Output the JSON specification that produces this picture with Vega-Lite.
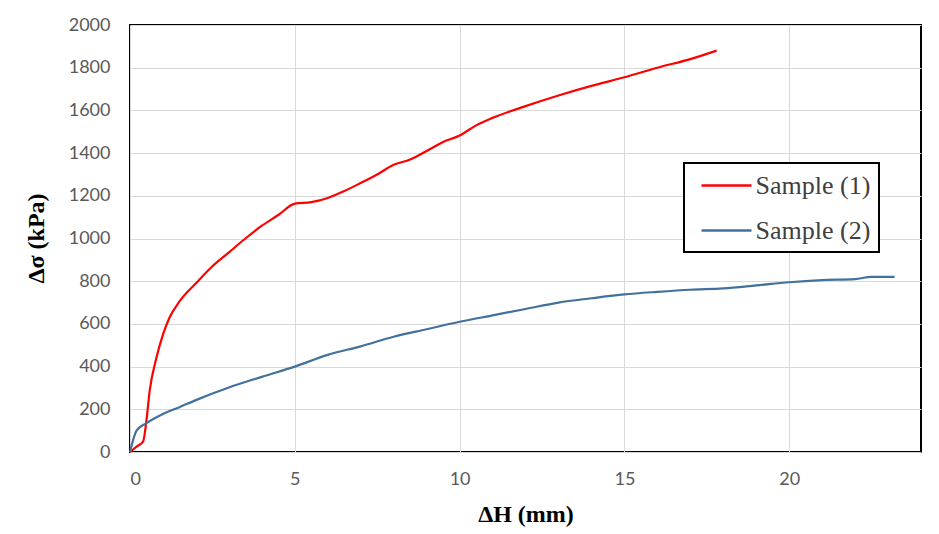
{
  "$schema": "https://vega.github.io/schema/vega-lite/v6.json",
  "width": 791,
  "height": 427,
  "autosize": {"type": "none"},
  "padding": {"left": 130, "top": 25, "right": 18, "bottom": 82},
  "background": "white",
  "config": {
    "view": {"stroke": "black", "strokeWidth": 2},
    "legend": {"strokeWidth": 2},
    "axis": {
      "labelFont": "Lato",
      "labelFontSize": 18,
      "labelColor": "#595959",
      "gridColor": "#d9d9d9",
      "gridWidth": 1,
      "domain": false,
      "ticks": false,
      "titleFont": "Liberation Serif",
      "titleFontSize": 24,
      "titleFontWeight": "bold",
      "titleColor": "black"
    }
  },
  "data": {
    "values": [
      {"dh": 0, "ds": 0, "s": "Sample (1)"},
      {"dh": 0.2, "ds": 25, "s": "Sample (1)"},
      {"dh": 0.4, "ds": 50, "s": "Sample (1)"},
      {"dh": 0.5, "ds": 150, "s": "Sample (1)"},
      {"dh": 0.6, "ds": 290, "s": "Sample (1)"},
      {"dh": 0.8, "ds": 440, "s": "Sample (1)"},
      {"dh": 1.0, "ds": 550, "s": "Sample (1)"},
      {"dh": 1.2, "ds": 630, "s": "Sample (1)"},
      {"dh": 1.5, "ds": 705, "s": "Sample (1)"},
      {"dh": 2.0, "ds": 790, "s": "Sample (1)"},
      {"dh": 2.5, "ds": 870, "s": "Sample (1)"},
      {"dh": 3.0, "ds": 935, "s": "Sample (1)"},
      {"dh": 3.5, "ds": 1000, "s": "Sample (1)"},
      {"dh": 4.0, "ds": 1060, "s": "Sample (1)"},
      {"dh": 4.5, "ds": 1110, "s": "Sample (1)"},
      {"dh": 5.0, "ds": 1163, "s": "Sample (1)"},
      {"dh": 5.5, "ds": 1170, "s": "Sample (1)"},
      {"dh": 6.0, "ds": 1190, "s": "Sample (1)"},
      {"dh": 6.5, "ds": 1222, "s": "Sample (1)"},
      {"dh": 7.0, "ds": 1260, "s": "Sample (1)"},
      {"dh": 7.5, "ds": 1300, "s": "Sample (1)"},
      {"dh": 8.0, "ds": 1345, "s": "Sample (1)"},
      {"dh": 8.5, "ds": 1370, "s": "Sample (1)"},
      {"dh": 9.0, "ds": 1410, "s": "Sample (1)"},
      {"dh": 9.5, "ds": 1452, "s": "Sample (1)"},
      {"dh": 10.0, "ds": 1482, "s": "Sample (1)"},
      {"dh": 10.5, "ds": 1530, "s": "Sample (1)"},
      {"dh": 11.0, "ds": 1565, "s": "Sample (1)"},
      {"dh": 12.0, "ds": 1620, "s": "Sample (1)"},
      {"dh": 13.0, "ds": 1670, "s": "Sample (1)"},
      {"dh": 14.0, "ds": 1715, "s": "Sample (1)"},
      {"dh": 15.0, "ds": 1755, "s": "Sample (1)"},
      {"dh": 16.0, "ds": 1800, "s": "Sample (1)"},
      {"dh": 17.0, "ds": 1840, "s": "Sample (1)"},
      {"dh": 17.8, "ds": 1880, "s": "Sample (1)"},
      {"dh": 0, "ds": 0, "s": "Sample (2)"},
      {"dh": 0.2, "ds": 100, "s": "Sample (2)"},
      {"dh": 0.5, "ds": 135, "s": "Sample (2)"},
      {"dh": 1.0, "ds": 178, "s": "Sample (2)"},
      {"dh": 1.5, "ds": 210, "s": "Sample (2)"},
      {"dh": 2.0, "ds": 243, "s": "Sample (2)"},
      {"dh": 3.0, "ds": 302, "s": "Sample (2)"},
      {"dh": 4.0, "ds": 352, "s": "Sample (2)"},
      {"dh": 5.0, "ds": 400, "s": "Sample (2)"},
      {"dh": 6.0, "ds": 455, "s": "Sample (2)"},
      {"dh": 7.0, "ds": 495, "s": "Sample (2)"},
      {"dh": 8.0, "ds": 540, "s": "Sample (2)"},
      {"dh": 9.0, "ds": 575, "s": "Sample (2)"},
      {"dh": 10.0, "ds": 610, "s": "Sample (2)"},
      {"dh": 11.0, "ds": 640, "s": "Sample (2)"},
      {"dh": 12.0, "ds": 670, "s": "Sample (2)"},
      {"dh": 13.0, "ds": 700, "s": "Sample (2)"},
      {"dh": 14.0, "ds": 720, "s": "Sample (2)"},
      {"dh": 15.0, "ds": 738, "s": "Sample (2)"},
      {"dh": 16.0, "ds": 750, "s": "Sample (2)"},
      {"dh": 17.0, "ds": 760, "s": "Sample (2)"},
      {"dh": 18.0, "ds": 766, "s": "Sample (2)"},
      {"dh": 19.0, "ds": 780, "s": "Sample (2)"},
      {"dh": 20.0, "ds": 795, "s": "Sample (2)"},
      {"dh": 21.0, "ds": 805, "s": "Sample (2)"},
      {"dh": 22.0, "ds": 810, "s": "Sample (2)"},
      {"dh": 22.5, "ds": 820, "s": "Sample (2)"},
      {"dh": 23.2, "ds": 820, "s": "Sample (2)"}
    ]
  },
  "mark": {"type": "line", "strokeWidth": 2.2, "interpolate": "monotone"},
  "encoding": {
    "x": {
      "field": "dh", "type": "quantitative",
      "scale": {"domain": [0, 24], "nice": false},
      "axis": {"values": [0, 5, 10, 15, 20], "format": "d", "title": "ΔH (mm)", "labelPadding": 18, "titleY": 62, "titleBaseline": "middle"}
    },
    "y": {
      "field": "ds", "type": "quantitative",
      "scale": {"domain": [0, 2000], "nice": false},
      "axis": {"values": [0, 200, 400, 600, 800, 1000, 1200, 1400, 1600, 1800, 2000], "format": "d", "title": "Δσ (kPa)", "labelPadding": 20, "titleX": -94, "titleY": 213, "titleBaseline": "middle", "titleAlign": "center", "titleAngle": -90}
    },
    "color": {
      "field": "s", "type": "nominal",
      "scale": {"domain": ["Sample (1)", "Sample (2)"], "range": ["#ff0000", "#41719c"]},
      "legend": {
        "title": null,
        "orient": "none",
        "legendX": 554,
        "legendY": 138,
        "symbolType": "M-2,0L2,0",
        "symbolSize": 625,
        "symbolOffset": 20,
        "symbolStrokeWidth": 2.5,
        "labelFont": "Liberation Serif",
        "labelFontSize": 26,
        "labelColor": "#404040",
        "rowPadding": 18,
        "padding": 8.5,
        "strokeColor": "black",
        "fillColor": "white",
        "labelOffset": 15
      }
    }
  }
}
